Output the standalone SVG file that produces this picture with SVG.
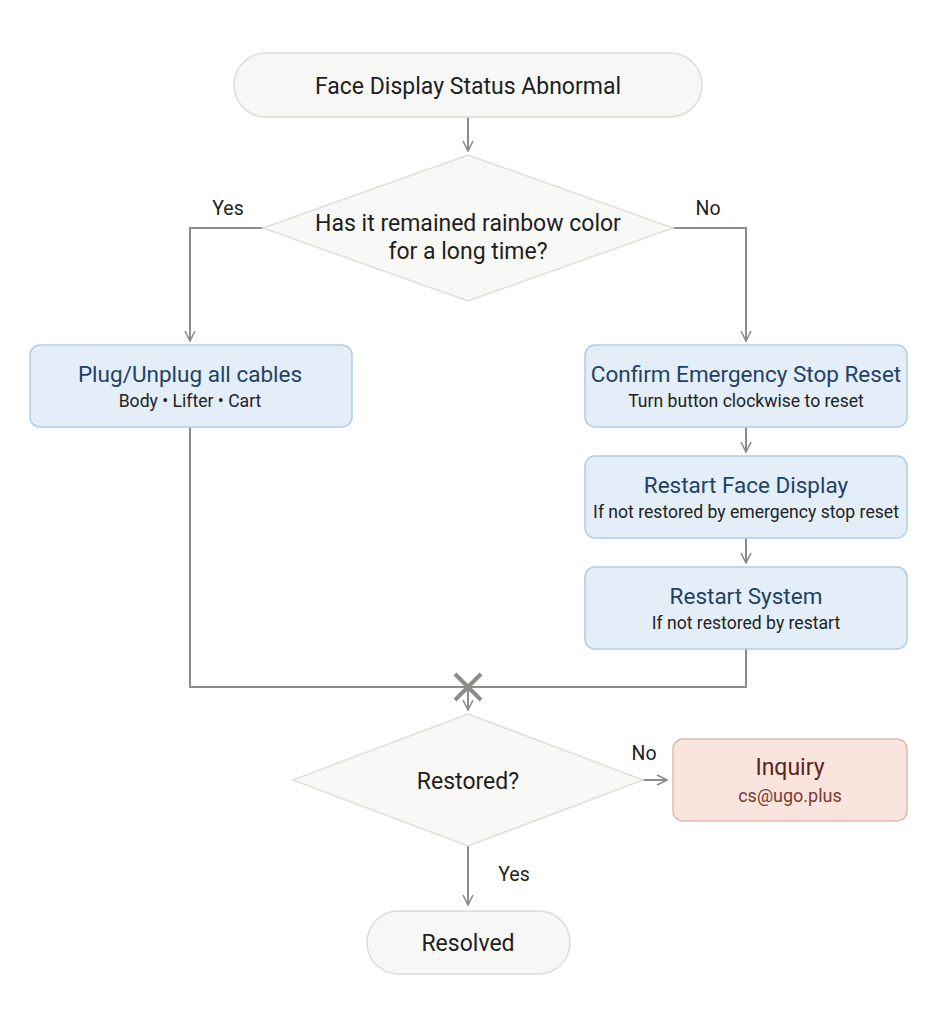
<svg xmlns="http://www.w3.org/2000/svg" width="949" height="1024" viewBox="0 0 949 1024">
<defs>
<style>
.term{fill:#f7f7f5;stroke:#dcdcd8;stroke-width:1.5}
.dia{fill:#f8f8f6;stroke:#dededa;stroke-width:1.5}
.proc{fill:#e3eef9;stroke:#b3cbe4;stroke-width:1.5}
.warn{fill:#f9e4de;stroke:#e3b9ad;stroke-width:1.5}
.t{font-family:Roboto,"Liberation Sans",sans-serif;text-anchor:middle;fill:#1e1e1e}
.main{font-size:23px}
.title{font-size:22.5px;fill:#1f4266}
.sub{font-size:17.6px;fill:#222}
.lbl{font-family:Roboto,"Liberation Sans",sans-serif;font-size:19.5px;fill:#1e1e1e;text-anchor:middle}
.c{fill:none;stroke:#8c8c88;stroke-width:2}
</style>
<marker id="ah" viewBox="0 0 12 12" refX="11" refY="6" markerWidth="12" markerHeight="12" markerUnits="userSpaceOnUse" orient="auto">
<path d="M1,1 L11,6 L1,11" fill="none" stroke="#8c8c88" stroke-width="1.6"/>
</marker>
</defs>
<rect width="949" height="1024" fill="#ffffff"/>

<g id="connectors">
<path class="c" d="M468,117 V151" marker-end="url(#ah)"/>
<path class="c" d="M263,228 H190 V341" marker-end="url(#ah)"/>
<path class="c" d="M673,228 H746 V341" marker-end="url(#ah)"/>
<path class="c" d="M746,427 V452" marker-end="url(#ah)"/>
<path class="c" d="M746,538 V563" marker-end="url(#ah)"/>
<path class="c" d="M190,427 V687 H746 V649"/>
<path class="c" d="M468,687 V710" marker-end="url(#ah)"/>
<path d="M455,674 L481,700 M481,674 L455,700" stroke="#8c8c88" stroke-width="4" fill="none"/>
<path class="c" d="M643,780 H667" marker-end="url(#ah)"/>
<path class="c" d="M468,846 V905" marker-end="url(#ah)"/>
<text class="lbl" x="228" y="215">Yes</text>
<text class="lbl" x="708" y="215">No</text>
<text class="lbl" x="644" y="760">No</text>
<text class="lbl" x="514" y="881">Yes</text>
</g>

<g id="start">
<rect class="term" x="234" y="53" width="468" height="64" rx="32"/>
<text class="t main" x="468" y="94">Face Display Status Abnormal</text>
</g>

<g id="decision1">
<polygon class="dia" points="468,155 673,228 468,301 263,228"/>
<text class="t main" x="468" y="231">Has it remained rainbow color</text>
<text class="t main" x="468" y="259">for a long time?</text>
</g>

<g id="plug">
<rect class="proc" x="30" y="345" width="322" height="82" rx="10"/>
<text class="t title" x="190" y="382">Plug/Unplug all cables</text>
<text class="t sub" x="190" y="407">Body • Lifter • Cart</text>
</g>

<g id="confirm">
<rect class="proc" x="585" y="345" width="322" height="82" rx="10"/>
<text class="t title" x="746" y="382">Confirm Emergency Stop Reset</text>
<text class="t sub" x="746" y="407">Turn button clockwise to reset</text>
</g>

<g id="restartFace">
<rect class="proc" x="585" y="456" width="322" height="82" rx="10"/>
<text class="t title" x="746" y="493">Restart Face Display</text>
<text class="t sub" x="746" y="518">If not restored by emergency stop reset</text>
</g>

<g id="restartSystem">
<rect class="proc" x="585" y="567" width="322" height="82" rx="10"/>
<text class="t title" x="746" y="604">Restart System</text>
<text class="t sub" x="746" y="629">If not restored by restart</text>
</g>

<g id="decision2">
<polygon class="dia" points="468,714 643,780 468,846 293,780"/>
<text class="t main" x="468" y="789">Restored?</text>
</g>

<g id="inquiry">
<rect class="warn" x="673" y="739" width="234" height="82" rx="10"/>
<text class="t main" x="790" y="775" style="fill:#5a2520">Inquiry</text>
<text class="t sub" x="790" y="802" style="fill:#7a3a32;font-size:18px">cs@ugo.plus</text>
</g>

<g id="resolved">
<rect class="term" x="367" y="911" width="203" height="63" rx="31.5"/>
<text class="t main" x="468" y="951">Resolved</text>
</g>
</svg>
